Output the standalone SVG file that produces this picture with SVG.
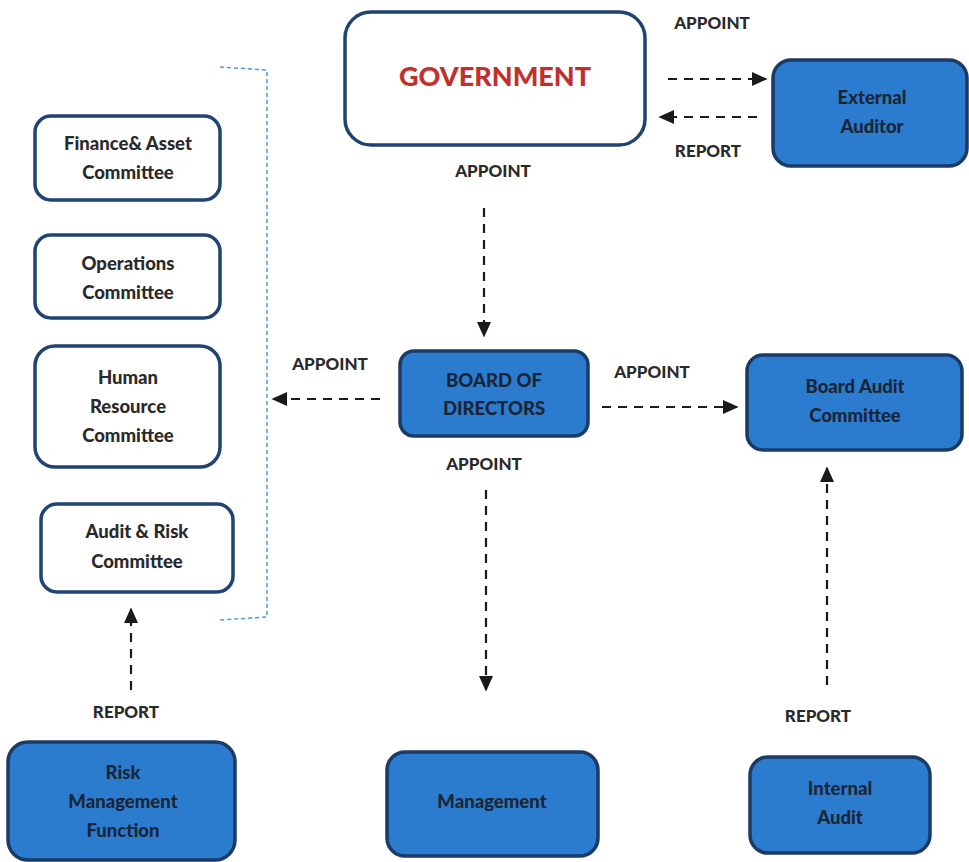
<svg xmlns="http://www.w3.org/2000/svg" width="969" height="862" viewBox="0 0 969 862">
<defs>
<marker id="ah2" viewBox="0 0 10 10" refX="9" refY="5" markerWidth="16" markerHeight="16" markerUnits="userSpaceOnUse" orient="auto">
<path d="M0,0.5 L10,5 L0,9.5 z" fill="#1a1a1a"/>
</marker>
<style>
.wb{fill:#ffffff;stroke:#1f4373;stroke-width:3.5}
.bb{fill:#2b7ccf;stroke:#1b3a66;stroke-width:3.5}
.t{font-family:Lato,"Open Sans","Liberation Sans",sans-serif;font-weight:900;font-size:18.5px;fill:#2a2a2a;text-anchor:middle}
.tb{font-family:Lato,"Open Sans","Liberation Sans",sans-serif;font-weight:900;font-size:18.5px;fill:#1a2535;text-anchor:middle}
.lbl{font-family:Lato,"Open Sans","Liberation Sans",sans-serif;font-weight:900;font-size:17px;fill:#2a2a2a;text-anchor:middle}
.c{fill:none;stroke:#1a1a1a;stroke-width:2.2;stroke-dasharray:9,7;marker-end:url(#ah2)}
.br{fill:none;stroke:#4a9ae0;stroke-width:1.5;stroke-dasharray:4,3}
</style>
</defs>
<rect width="969" height="862" fill="#ffffff"/>

<g id="government">
<rect class="wb" x="345" y="12" width="300" height="133" rx="26"/>
<text x="495" y="86" text-anchor="middle" font-family="Lato,'Open Sans','Liberation Sans',sans-serif" font-weight="900" font-size="27" fill="#c0302c">GOVERNMENT</text>
</g>

<g id="external-auditor">
<rect class="bb" x="773" y="60" width="194" height="106" rx="18"/>
<text class="tb" x="872" y="104">External</text>
<text class="tb" x="872" y="133">Auditor</text>
</g>

<g id="finance">
<rect class="wb" x="35" y="116" width="185" height="84" rx="16"/>
<text class="t" x="128" y="150">Finance&amp; Asset</text>
<text class="t" x="128" y="179">Committee</text>
</g>

<g id="operations">
<rect class="wb" x="35" y="235" width="185" height="83" rx="16"/>
<text class="t" x="128" y="270">Operations</text>
<text class="t" x="128" y="299">Committee</text>
</g>

<g id="human-resource">
<rect class="wb" x="35" y="346" width="185" height="121" rx="20"/>
<text class="t" x="128" y="384">Human</text>
<text class="t" x="128" y="413">Resource</text>
<text class="t" x="128" y="442">Committee</text>
</g>

<g id="audit-risk">
<rect class="wb" x="41" y="504" width="192" height="88" rx="16"/>
<text class="t" x="137" y="538">Audit &amp; Risk</text>
<text class="t" x="137" y="568">Committee</text>
</g>

<g id="board">
<rect class="bb" x="400" y="351" width="188" height="85" rx="14"/>
<text class="tb" x="494" y="387">BOARD OF</text>
<text class="tb" x="494" y="415">DIRECTORS</text>
</g>

<g id="board-audit">
<rect class="bb" x="747" y="355" width="215" height="95" rx="16"/>
<text class="tb" x="855" y="393">Board Audit</text>
<text class="tb" x="855" y="422">Committee</text>
</g>

<g id="risk-management">
<rect class="bb" x="8" y="742" width="227" height="118" rx="20"/>
<text class="tb" x="123" y="779">Risk</text>
<text class="tb" x="123" y="808">Management</text>
<text class="tb" x="123" y="837">Function</text>
</g>

<g id="management">
<rect class="bb" x="387" y="752" width="211" height="104" rx="18"/>
<text class="tb" x="492" y="808">Management</text>
</g>

<g id="internal-audit">
<rect class="bb" x="750" y="757" width="180" height="96" rx="18"/>
<text class="tb" x="840" y="795">Internal</text>
<text class="tb" x="840" y="824">Audit</text>
</g>

<g id="connectors">
<path class="br" d="M220,67 L267,70 L267,617 L220,620"/>
<line class="c" x1="668" y1="79" x2="766" y2="79"/>
<line class="c" x1="757" y1="117" x2="660" y2="117"/>
<line class="c" x1="484" y1="208" x2="484" y2="336"/>
<line class="c" x1="380" y1="399" x2="273" y2="399"/>
<line class="c" x1="602" y1="407" x2="737" y2="407"/>
<line class="c" x1="486" y1="490" x2="486" y2="690"/>
<line class="c" x1="827" y1="685" x2="827" y2="468"/>
<line class="c" x1="131" y1="690" x2="131" y2="609"/>
<text class="lbl" x="712" y="29">APPOINT</text>
<text class="lbl" x="708" y="157">REPORT</text>
<text class="lbl" x="493" y="177">APPOINT</text>
<text class="lbl" x="330" y="370">APPOINT</text>
<text class="lbl" x="652" y="378">APPOINT</text>
<text class="lbl" x="484" y="470">APPOINT</text>
<text class="lbl" x="126" y="718">REPORT</text>
<text class="lbl" x="818" y="722">REPORT</text>
</g>
</svg>
